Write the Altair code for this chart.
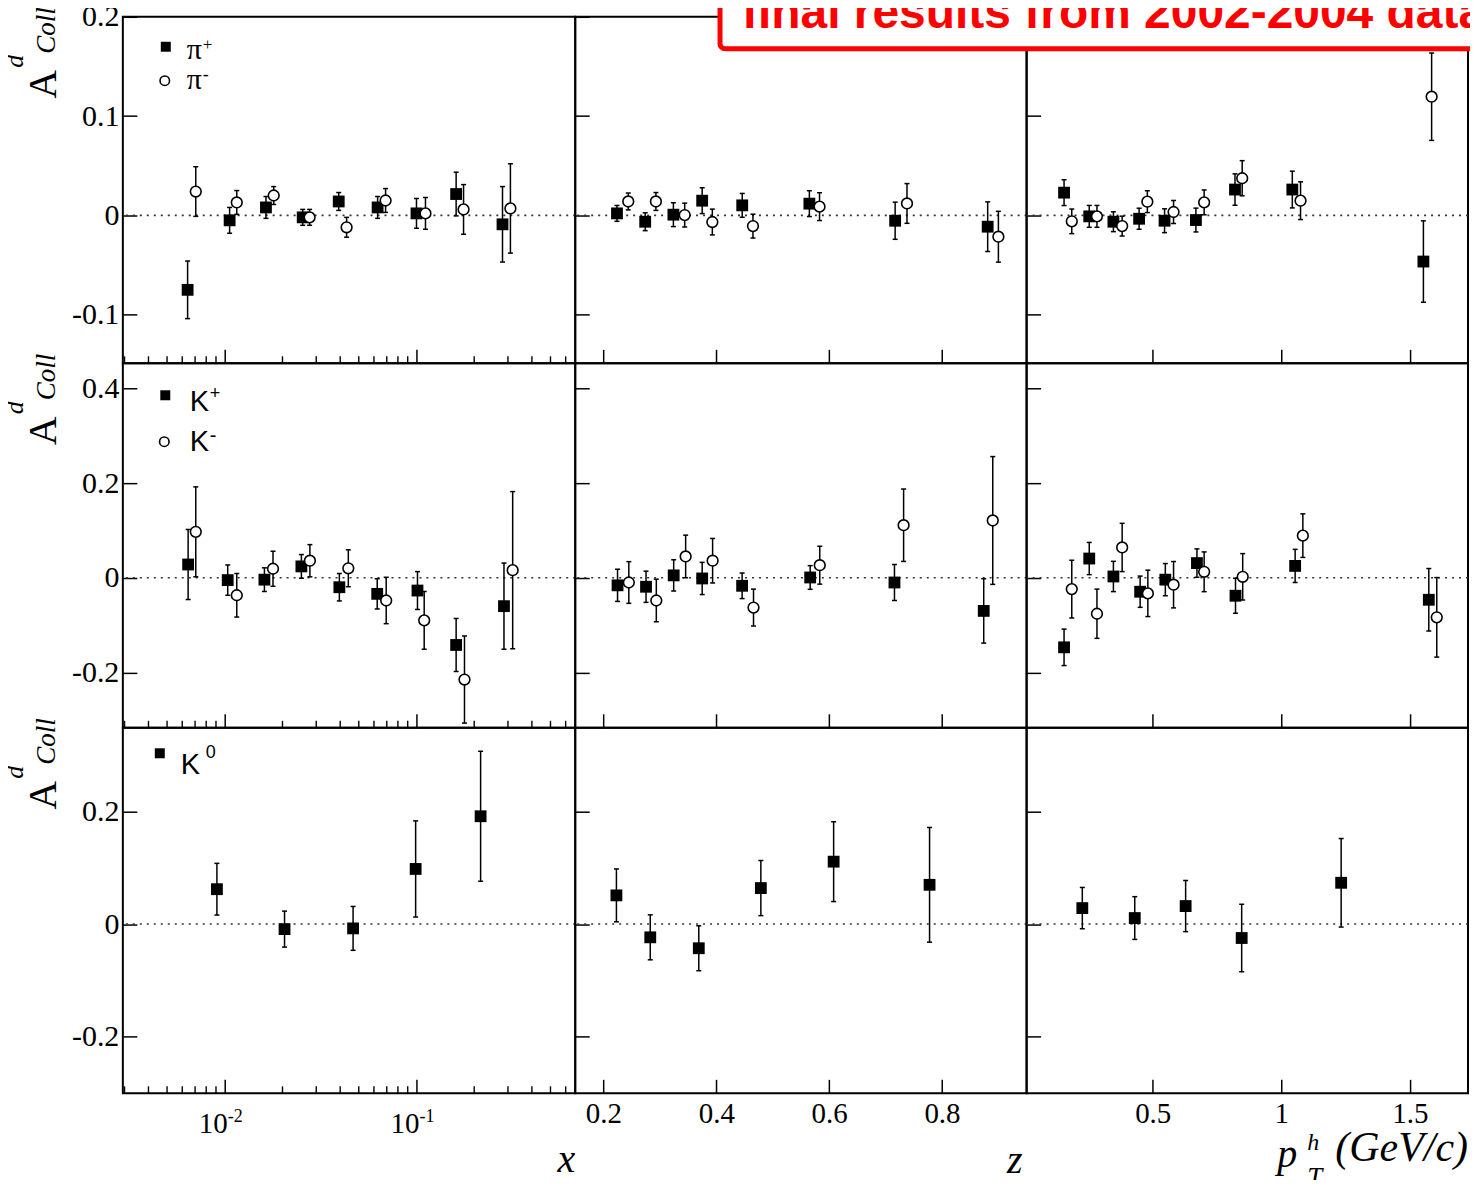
import altair as alt
import pandas as pd

# ---------------- values ----------------
# Row 1 : pi+ (filled squares) / pi- (open circles)
x_pip = [0.0064, 0.0106, 0.0164, 0.0255, 0.0393, 0.0627, 0.100, 0.161, 0.281]
a_pip_x = [-0.075, -0.005, 0.008, -0.002, 0.014, 0.008, 0.002, 0.0215, -0.009]
e_pip_x = [0.029, 0.013, 0.011, 0.008, 0.009, 0.011, 0.015, 0.022, 0.038]
x_pim = [0.00706, 0.01155, 0.0180, 0.0277, 0.0432, 0.069, 0.1114, 0.176, 0.309]
a_pim_x = [0.024, 0.013, 0.020, -0.002, -0.012, 0.015, 0.002, 0.006, 0.007]
e_pim_x = [0.025, 0.012, 0.009, 0.008, 0.010, 0.012, 0.016, 0.025, 0.045]

z_pip = [0.224, 0.274, 0.324, 0.375, 0.446, 0.565, 0.717, 0.881]
a_pip_z = [0.002, -0.0064, 0.0007, 0.0148, 0.0101, 0.0118, -0.0054, -0.0114]
e_pip_z = [0.008, 0.009, 0.012, 0.013, 0.012, 0.013, 0.0187, 0.025]
z_pim = [0.244, 0.293, 0.344, 0.393, 0.465, 0.583, 0.738, 0.900]
a_pim_z = [0.014, 0.014, 0.0003, -0.0067, -0.0108, 0.0088, 0.012, -0.0215]
e_pim_z = [0.0085, 0.009, 0.012, 0.013, 0.012, 0.014, 0.020, 0.0256]

pt_pip = [0.155, 0.253, 0.347, 0.447, 0.546, 0.668, 0.820, 1.043, 1.553]
a_pip_pt = [0.0229, -0.001, -0.0064, -0.0034, -0.0054, -0.0047, 0.026, 0.026, -0.0465]
e_pip_pt = [0.013, 0.011, 0.010, 0.0106, 0.012, 0.012, 0.0158, 0.0185, 0.041]
pt_pim = [0.185, 0.283, 0.381, 0.479, 0.581, 0.700, 0.848, 1.075, 1.585]
a_pim_pt = [-0.006, -0.001, -0.0108, 0.0138, 0.0034, 0.0131, 0.0374, 0.0148, 0.1195]
e_pim_pt = [0.0124, 0.011, 0.010, 0.011, 0.0116, 0.0125, 0.0177, 0.019, 0.044]

# Row 2 : K+ (filled squares) / K- (open circles)
x_kp = [0.00644, 0.01036, 0.0161, 0.0251, 0.0396, 0.0624, 0.1012, 0.161, 0.286]
a_kp_x = [0.028, -0.005, -0.004, 0.024, -0.020, -0.034, -0.027, -0.142, -0.060]
e_kp_x = [0.074, 0.032, 0.025, 0.025, 0.029, 0.032, 0.040, 0.056, 0.091]
x_km = [0.00706, 0.01155, 0.01785, 0.0278, 0.0441, 0.0695, 0.1097, 0.178, 0.3175]
a_km_x = [0.097, -0.037, 0.019, 0.036, 0.020, -0.048, -0.090, -0.215, 0.016]
e_km_x = [0.095, 0.046, 0.037, 0.034, 0.039, 0.049, 0.061, 0.092, 0.166]

z_kp = [0.225, 0.2755, 0.3245, 0.375, 0.4458, 0.5664, 0.7158, 0.874]
a_kp_z = [-0.016, -0.019, 0.005, -0.0015, -0.017, 0.0006, -0.010, -0.070]
e_kp_z = [0.034, 0.033, 0.033, 0.034, 0.027, 0.025, 0.038, 0.068]
z_km = [0.245, 0.2937, 0.3457, 0.3935, 0.466, 0.5834, 0.732, 0.890]
a_km_z = [-0.010, -0.048, 0.045, 0.036, -0.063, 0.0265, 0.111, 0.121]
e_km_z = [0.044, 0.045, 0.045, 0.047, 0.039, 0.040, 0.0765, 0.135]

pt_kp = [0.155, 0.253, 0.347, 0.451, 0.549, 0.672, 0.822, 1.054, 1.574]
a_kp_pt = [-0.147, 0.0406, 0.0027, -0.0295, -0.004, 0.031, -0.038, 0.025, -0.0465]
e_kp_pt = [0.0385, 0.034, 0.032, 0.033, 0.034, 0.030, 0.037, 0.035, 0.066]
pt_km = [0.185, 0.283, 0.381, 0.481, 0.581, 0.700, 0.850, 1.084, 1.605]
a_km_pt = [-0.024, -0.076, 0.064, -0.033, -0.0147, 0.0126, 0.002, 0.089, -0.0836]
e_km_pt = [0.061, 0.052, 0.051, 0.049, 0.049, 0.042, 0.049, 0.046, 0.084]

# Row 3 : K0
x_k0 = [0.0091, 0.0205, 0.0467, 0.099, 0.216]
a_k0_x = [0.062, -0.009, -0.0077, 0.098, 0.1917]
e_k0_x = [0.046, 0.032, 0.039, 0.0855, 0.1156]
z_k0 = [0.223, 0.283, 0.369, 0.479, 0.608, 0.778]
a_k0_z = [0.051, -0.0236, -0.043, 0.064, 0.111, 0.0698]
e_k0_z = [0.047, 0.040, 0.040, 0.049, 0.071, 0.102]
pt_k0 = [0.226, 0.430, 0.628, 0.846, 1.233]
a_k0_pt = [0.0284, 0.0107, 0.032, -0.0248, 0.0734]
e_k0_pt = [0.0367, 0.038, 0.0455, 0.060, 0.0787]

# axes
X_DOMAIN = [[0.00294, 0.673], [0.15, 0.95], [0.0093, 1.7265]]
Y_DOMAIN = [[-0.149, 0.2], [-0.317, 0.453], [-0.301, 0.349]]
X_TICKS = [[0.01, 0.1], [0.2, 0.4, 0.6, 0.8], [0.5, 1.0, 1.5]]
Y_TICKS = [[-0.1, 0.0, 0.1, 0.2], [-0.2, 0.0, 0.2, 0.4], [-0.2, 0.0, 0.2]]
LOG_MINOR = [0.003, 0.004, 0.005, 0.006, 0.007, 0.008, 0.009,
             0.02, 0.03, 0.04, 0.05, 0.06, 0.07, 0.08, 0.09,
             0.2, 0.3, 0.4, 0.5, 0.6]
LOG_DECADES = [0.01, 0.1]
LOG_BASE = ["10", "10"]
LOG_EXP = ["-2", "-1"]

PANELS = {
    (0, 0): [("sq", x_pip, a_pip_x, e_pip_x), ("ci", x_pim, a_pim_x, e_pim_x)],
    (0, 1): [("sq", z_pip, a_pip_z, e_pip_z), ("ci", z_pim, a_pim_z, e_pim_z)],
    (0, 2): [("sq", pt_pip, a_pip_pt, e_pip_pt), ("ci", pt_pim, a_pim_pt, e_pim_pt)],
    (1, 0): [("sq", x_kp, a_kp_x, e_kp_x), ("ci", x_km, a_km_x, e_km_x)],
    (1, 1): [("sq", z_kp, a_kp_z, e_kp_z), ("ci", z_km, a_km_z, e_km_z)],
    (1, 2): [("sq", pt_kp, a_kp_pt, e_kp_pt), ("ci", pt_km, a_km_pt, e_km_pt)],
    (2, 0): [("sq", x_k0, a_k0_x, e_k0_x)],
    (2, 1): [("sq", z_k0, a_k0_z, e_k0_z)],
    (2, 2): [("sq", pt_k0, a_k0_pt, e_k0_pt)],
}

# ---------------- style ----------------
W = [453, 452, 442]
H = [347, 365, 366]
TICK = 14
SERIF = "Liberation Serif"
SANS = "Liberation Sans"
MARK = {
    "sq": dict(shape="square", filled=True, color="black", size=140, opacity=1),
    "ci": dict(shape="circle", filled=True, fill="white", stroke="black",
               strokeWidth=1.6, size=115, opacity=1),
}
Y_LABEL_EXPR = ("datum.value == 0 ? '0' : (datum.value < 0 ? '-' + format(-datum.value, '.1f')"
                " : format(datum.value, '.1f'))")


def xe(field, row, col):
    if col == 0:
        scale = alt.Scale(type="log", domain=X_DOMAIN[0], nice=False)
    else:
        scale = alt.Scale(type="linear", domain=X_DOMAIN[col], nice=False, zero=False)
    axis = alt.Axis(orient="bottom", values=X_TICKS[col], offset=-TICK, tickSize=TICK,
                    tickWidth=1.5, tickColor="black", domain=False, grid=False,
                    labels=(row == 2 and col > 0), labelFont=SERIF, labelFontSize=29,
                    labelColor="black", labelBaseline="alphabetic", labelPadding=29,
                    labelFlush=False, labelOverlap=False, format="~g", title=None)
    return alt.X(f"{field}:Q", scale=scale, axis=axis)


def ye(field, row, col):
    scale = alt.Scale(domain=Y_DOMAIN[row], nice=False, zero=False)
    axis = alt.Axis(orient="left", values=Y_TICKS[row], offset=-TICK, tickSize=TICK,
                    tickWidth=1.5, tickColor="black", domain=False, grid=False,
                    labels=(col == 0), labelFont=SERIF, labelFontSize=30, labelColor="black",
                    labelPadding=4, labelFlush=False, labelOverlap=False,
                    labelExpr=Y_LABEL_EXPR, title=None)
    return alt.Y(f"{field}:Q", scale=scale, axis=axis)


def txt(s, x, y, size, font=SERIF, style="normal", weight="normal", align="left",
        angle=0, color="black"):
    return alt.Chart(pd.DataFrame({"t": [s]})).mark_text(
        align=align, baseline="alphabetic", font=font, fontSize=size, fontStyle=style,
        fontWeight=weight, angle=angle, color=color
    ).encode(x=alt.value(x), y=alt.value(y), text="t:N")


def marker(kind, x, y, size):
    opts = dict(MARK[kind])
    opts["size"] = size
    return alt.Chart(pd.DataFrame({"t": [0]})).mark_point(**opts).encode(
        x=alt.value(x), y=alt.value(y))


def anchor(x, y):
    return alt.Chart(pd.DataFrame({"t": [0]})).mark_rect(opacity=0).encode(
        x=alt.value(x), x2=alt.value(x + 1), y=alt.value(y), y2=alt.value(y + 1))


def panel(row, col):
    w, h = W[col], H[row]
    layers = [
        alt.Chart(pd.DataFrame({"v": [0.0]})).mark_rule(
            color="#333", strokeWidth=1.6, strokeDash=[2, 5]
        ).encode(y=ye("v", row, col))
    ]
    if col == 0:
        layers.append(
            alt.Chart(pd.DataFrame({"t": LOG_MINOR})).mark_rule(
                color="black", strokeWidth=1.4
            ).encode(x=xe("t", row, col), y=alt.value(h - 7), y2=alt.value(h))
        )
    series = PANELS[(row, col)]
    bases = []
    for kind, xs, ys, es in series:
        df = pd.DataFrame({"x": xs, "a": ys, "e": es})
        base = alt.Chart(df).transform_calculate(lo="datum.a - datum.e", hi="datum.a + datum.e")
        bases.append((kind, base))
        layers.append(base.mark_rule(color="black", strokeWidth=1.5).encode(
            x=xe("x", row, col), y=ye("lo", row, col), y2="hi:Q"))
        for f in ("lo", "hi"):
            layers.append(base.mark_tick(orient="horizontal", size=5, thickness=1.5,
                                         color="black", opacity=1).encode(
                x=xe("x", row, col), y=ye(f, row, col)))
    for kind, base in bases:
        layers.append(base.mark_point(**MARK[kind]).encode(
            x=xe("x", row, col), y=ye("a", row, col)))

    # y-axis title and legends in the left column
    if col == 0:
        layers += [
            txt("A", -67, 82, 40, angle=270),
            txt("d", -100, 51, 26, style="italic", angle=270),
            txt("Coll", -68, 37, 27, style="italic", angle=270),
        ]
        if row == 0:
            layers += [
                marker("sq", 43, 30, 100), txt("π", 64, 42, 30), txt("+", 80, 33, 17),
                marker("ci", 42, 64, 90), txt("π", 64, 72, 30), txt("-", 80, 63, 18),
                anchor(-140, -60),
            ]
        elif row == 1:
            layers += [
                marker("sq", 42.5, 32, 100), txt("K", 67, 48, 29, font=SANS),
                txt("+", 87, 36, 18, font=SANS),
                marker("ci", 41.5, 78.5, 90), txt("K", 67, 88, 29, font=SANS),
                txt("-", 87, 79, 20, font=SANS),
            ]
        else:
            layers += [
                marker("sq", 37, 25.5, 100), txt("K", 58, 46, 29, font=SANS),
                txt("0", 83, 30, 18, font=SANS),
                anchor(0, h + 129),
            ]
            dec = pd.DataFrame({"v": LOG_DECADES, "b": LOG_BASE, "p": LOG_EXP})
            layers.append(alt.Chart(dec).mark_text(
                align="right", baseline="alphabetic", dx=3, font=SERIF, fontSize=29,
                color="black").encode(x=xe("v", row, col), y=alt.value(h + 40), text="b:N"))
            layers.append(alt.Chart(dec).mark_text(
                align="left", baseline="alphabetic", dx=3, font=SERIF, fontSize=18,
                color="black").encode(x=xe("v", row, col), y=alt.value(h + 29), text="p:N"))
            layers.append(txt("x", w, h + 79, 40, style="italic", align="right"))
    if row == 2 and col == 1:
        layers.append(txt("z", w - 4, h + 80, 40, style="italic", align="right"))
    if row == 2 and col == 2:
        layers += [
            txt("p", 251, h + 74, 40, style="italic"),
            txt("h", 281, h + 57, 24, style="italic"),
            txt("T", 281, h + 93, 27, style="italic"),
            txt("(GeV/c)", w, h + 68, 42, style="italic", align="right"),
        ]
    if row == 0 and col == 2:
        layers += [
            alt.Chart(pd.DataFrame({"t": [0]})).mark_rect(
                fill="white", stroke="#ff0000", strokeWidth=5, cornerRadius=5, opacity=1
            ).encode(x=alt.value(-307), x2=alt.value(w + 40), y=alt.value(-55), y2=alt.value(32)),
            txt("final results from 2002-2004 data", -285, 11, 48, font=SANS,
                weight="bold", color="#ff0000"),
            anchor(w + 59, 0),
        ]
    return alt.layer(*layers).properties(width=w, height=h)


panels = [panel(r, c) for r in range(3) for c in range(3)]
chart = alt.concat(*panels, columns=3, spacing=0, bounds="flush").properties(
    padding={"left": -26, "top": -53, "right": -59, "bottom": -45},
    background="white",
).configure_view(stroke="black", strokeWidth=2)

chart.save("out.html", embed_options={"renderer": "svg", "actions": False})
